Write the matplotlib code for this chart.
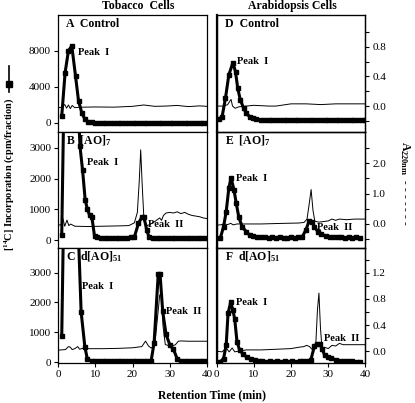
import matplotlib
matplotlib.use('Agg')
import matplotlib.pyplot as plt
from matplotlib.lines import Line2D
from matplotlib.ticker import FixedLocator, FormatStrFormatter

plt.rcParams['font.family'] = 'Liberation Serif'
plt.rcParams['mathtext.fontset'] = 'custom'
plt.rcParams['mathtext.rm'] = 'Liberation Serif'
plt.rcParams['mathtext.bf'] = 'Liberation Serif:bold'
plt.rcParams['mathtext.default'] = 'bf'

# ---- tobacco, thick line = [14C] cpm/fraction, thin line = A220 trace ----
a_t = [1.0, 1.9, 2.8, 3.7, 4.7, 5.5, 6.4, 7.2, 8.1, 9, 10, 11, 12, 13, 14, 15, 16, 17, 18, 19, 20,
       21, 22, 23, 24, 25, 26, 27, 28, 29, 30, 31, 32, 33, 34, 35, 36, 37, 38, 39, 40]
a_cpm = [780, 5580, 8040, 8550, 5220, 2480, 1100, 440, 150, 60, 40, 30, 30, 20, 20, 30, 20, 20, 20, 20,
         20, 30, 20, 20, 20, 20, 20, 30, 20, 20, 20, 20, 20, 20, 20, 20, 20, 20, 20, 20, 20]
a_thin_t = [0, 1, 1.8, 2.3, 2.8, 3.3, 3.8, 4.5, 6, 10, 15, 20, 23, 26, 29, 32, 35, 38, 40]
a_thin = [1700, 1750, 2050, 1650, 2000, 1600, 1950, 1700, 1750, 1780, 1760, 1850, 2000, 1850, 1880,
          1950, 1820, 1900, 1850]

b_t = [1.0, 2, 3, 4, 5, 5.9, 6.6, 7.3, 7.9, 8.5, 9.1, 9.8, 10.6, 11.5, 12.5, 13.5, 14.5, 15.5, 16.5,
       17.5, 18.5, 19.5, 20.5, 21.6, 22.5, 23.1, 23.8, 24.4, 25.5, 26.5, 27.5, 28.5, 29.5, 30.5, 31.5,
       32.5, 33.5, 34.5, 35.5, 36.5, 37.5, 38.5, 39.5]
b_cpm = [160, 8000, 12000, 10000, 5500, 3050, 2270, 1300, 1000, 800, 740, 130, 90, 80, 70, 80, 60, 70,
         80, 60, 70, 90, 100, 545, 740, 740, 330, 110, 70, 60, 60, 50, 60, 50, 60, 50, 60, 50, 50, 60,
         50, 50, 50]
b_thin_t = [0, 0.8, 1.3, 1.8, 2.4, 2.9, 3.4, 4.5, 8, 12, 16, 19, 20.5, 21.3, 21.8, 22.2, 22.6, 23.1,
            24, 25.5, 26.5, 27.3, 27.8, 28.3, 29, 30, 31, 32, 33, 34, 35, 36, 37, 38, 39, 40]
b_thin = [480, 500, 700, 450, 650, 470, 520, 450, 440, 450, 460, 470, 560, 900, 1900, 2940, 1800, 600,
          470, 560, 650, 720, 640, 800, 880, 900, 880, 920, 860, 900, 840, 800, 780, 760, 720, 700]

c_t = [1.0, 2, 3, 4, 5, 6.2, 7.2, 7.9, 9, 10, 11, 12, 13, 14, 15, 16, 17, 18, 19, 20, 21, 22, 23, 24,
       25, 25.8, 26.9, 27.4, 28.1, 29, 30, 31, 32, 33, 34, 35, 36, 37, 38, 39, 40]
c_cpm = [870, 9000, 14000, 12000, 6000, 1690, 515, 90, 40, 30, 30, 20, 30, 20, 20, 30, 20, 20, 30, 20,
         20, 30, 20, 30, 40, 650, 2945, 2945, 1710, 930, 590, 425, 110, 40, 30, 20, 20, 20, 20, 20, 20]
c_thin_t = [0, 1, 2, 2.8, 3.3, 3.8, 4.5, 5.3, 5.8, 6.5, 8, 12, 16, 20, 22.5, 23.5, 24.3, 25, 26, 26.8,
            27.3, 27.7, 28.2, 28.8, 29.5, 30.5, 31.5, 32.3, 33, 35, 38, 40]
c_thin = [400, 410, 420, 520, 500, 420, 450, 520, 430, 460, 450, 450, 460, 480, 520, 705, 540, 470, 600,
          1600, 2250, 2300, 1200, 590, 560, 540, 580, 700, 710, 700, 700, 700]

# ---- arabidopsis ----
d_t = [0.6, 1.5, 2.4, 3.3, 4.4, 5.1, 5.7, 6.4, 7.3, 8.0, 8.9, 9.7, 10.6, 12, 13, 14, 15, 16, 17, 18,
       19, 20, 21, 22, 23, 24, 25, 26, 27, 28, 29, 30, 31, 32, 33, 34, 35, 36, 37, 38, 39, 40]
d_cpm = [407, 700, 2740, 5330, 6700, 5700, 3850, 2560, 1630, 1070, 700, 520, 400, 350, 330, 330, 320,
         330, 320, 320, 330, 320, 320, 320, 310, 320, 320, 310, 320, 310, 310, 320, 310, 310, 310, 300,
         310, 310, 300, 300, 300, 300]
d_thin_t = [0, 2, 3, 3.5, 3.9, 4.3, 5, 6, 8, 10, 14, 16, 20, 24, 28, 32, 36, 40]
d_thin = [0.0, 0.0, 0.02, 0.06, 0.09, 0.0, -0.03, -0.01, 0.0, 0.01, 0.0, 0.0, 0.03, 0.03, 0.02, 0.03,
          0.03, 0.03]

e_t = [1.0, 1.9, 2.6, 3.3, 3.9, 4.7, 5.3, 6.0, 6.9, 8.0, 8.9, 9.8, 11, 12, 13, 14, 15, 16, 17, 18, 19,
       20, 21, 22, 23, 24.0, 24.9, 25.7, 26.3, 27.2, 28.1, 29.4, 30.5, 31.5, 32.5, 33.5, 34.5, 35.5,
       36.5, 37.5, 38.5]
e_cpm = [55, 435, 925, 1685, 2030, 1630, 1195, 740, 435, 270, 165, 130, 100, 90, 90, 80, 90, 80, 90, 80,
         80, 90, 80, 90, 100, 327, 630, 600, 435, 270, 195, 130, 110, 100, 90, 90, 80, 90, 80, 90, 80]
e_thin_t = [0, 1, 2, 3, 3.8, 4.5, 5.5, 8, 12, 18, 22, 23.5, 24.3, 24.8, 25.4, 25.9, 26.4, 27.5, 30, 31,
            32, 33, 34, 35, 37, 40]
e_thin = [-0.04, -0.03, 0.0, -0.02, 0.02, -0.03, 0.0, 0.0, 0.0, 0.02, 0.03, 0.05, 0.16, 0.58, 1.13,
          0.45, 0.09, 0.06, 0.1, 0.16, 0.12, 0.16, 0.15, 0.14, 0.16, 0.16]

f_t = [1.0, 1.9, 2.6, 3.1, 3.8, 4.4, 4.9, 5.5, 6.2, 7.2, 8.2, 9.3, 10.3, 11.3, 12.3, 13.3, 14.3, 15.3,
       16.3, 17.3, 18.3, 19.3, 20.3, 21.3, 22.3, 23.3, 24.3, 25.3, 26.3, 26.9, 27.8, 28.4, 29.0, 29.9,
       30.8, 32.1, 33.2, 34.3, 35.4, 36.5, 37.6, 38.5]
f_cpm = [15, 115, 575, 1640, 2005, 1750, 1435, 685, 405, 260, 160, 95, 70, 50, 40, 15, 20, 15, 20, 15,
         20, 15, 20, 15, 20, 25, 30, 60, 540, 610, 610, 430, 240, 160, 125, 70, 50, 35, 25, 20, 15, 15]
f_thin_t = [0, 1.5, 2.6, 3.4, 4.2, 4.9, 5.8, 8, 12, 16, 20, 22, 23.4, 24.2, 25, 25.8, 26.6, 27.1, 27.5,
            27.9, 28.3, 29, 30, 31, 32, 33, 34, 36, 38, 40]
f_thin = [0.0, -0.01, 0.05, -0.01, 0.05, -0.01, 0.0, 0.02, 0.02, 0.03, 0.04, 0.06, 0.07, 0.09, 0.07,
          0.02, 0.04, 0.63, 0.89, 0.37, 0.05, 0.06, 0.04, 0.09, 0.08, 0.12, 0.1, 0.1, 0.1, 0.1]

panel_names = ['A  Control', 'B  [AO]$_7$', 'C  d[AO]$_{51}$',
               'D  Control', 'E  [AO]$_7$', 'F  d[AO]$_{51}$']

fig = plt.figure(figsize=(4.15, 4.03), dpi=100)

# panel boxes (figure fractions)
col_x = [0.1398, 0.5217]
col_w = 0.359
rows = [(0.6725, 0.2903), (0.3846, 0.2878), (0.0993, 0.2854)]
cpm_lims = [(-1000, 12000), (-260, 3520), (-30, 3830)]
cpm_ticks = [[0, 4000, 8000], [0, 1000, 2000, 3000], [0, 1000, 2000, 3000]]

thick = [(a_t, a_cpm), (b_t, b_cpm), (c_t, c_cpm), (d_t, d_cpm), (e_t, e_cpm), (f_t, f_cpm)]
thin = [(a_thin_t, a_thin), (b_thin_t, b_thin), (c_thin_t, c_thin),
        (d_thin_t, d_thin), (e_thin_t, e_thin), (f_thin_t, f_thin)]

# A220 axis settings for right column
a_lims = [(-0.35, 1.23), (-0.79, 3.02), (-0.18, 1.58)]
a_major = [[0, 0.4, 0.8], [0, 1, 2], [0, 0.4, 0.8, 1.2]]
a_minor = [[-0.2, 0.2, 0.6, 1.0], [-0.5, 0.5, 1.5, 2.5], [0.2, 0.6, 1.0, 1.4]]

# peak label positions (time, cpm)
peak1 = [(5.4, 7780), (7.8, 2540), (6.4, 2530), (5.5, 6780), (5.2, 1990), (5.2, 1984)]
peak2 = [None, (24.2, 490), (29.0, 1700), None, (27.0, 424), None]

for col in range(2):
    for r in range(3):
        i = col * 3 + r
        ax = fig.add_axes([col_x[col], rows[r][0], col_w, rows[r][1]])
        ax.set_xlim(0, 40)
        ax.set_ylim(cpm_lims[r])
        for s in ax.spines.values():
            s.set_linewidth(0.9)

        if col == 0:
            ax.plot(thin[i][0], thin[i][1], color='black', lw=0.7, zorder=2)
        else:
            ax2 = ax.twinx()
            ax2.set_ylim(a_lims[r])
            ax2.plot(thin[i][0], thin[i][1], color='black', lw=0.7)
            ax2.yaxis.set_major_locator(FixedLocator(a_major[r]))
            ax2.yaxis.set_minor_locator(FixedLocator(a_minor[r]))
            ax2.yaxis.set_major_formatter(FormatStrFormatter('%.1f'))
            ax2.tick_params(axis='y', which='major', direction='out', length=3, width=0.8, labelsize=8, pad=2)
            ax2.tick_params(axis='y', which='minor', direction='out', length=3, width=0.8)
            ax2.spines['left'].set_linewidth(1.6)
            ax2.spines['right'].set_linewidth(0.9)
            ax.set_zorder(ax2.get_zorder() + 1)
            ax.patch.set_visible(False)

        # thick line with square markers on top
        ax.plot(thick[i][0], thick[i][1], color='black', lw=2.2, marker='s', ms=2.8, zorder=3,
                clip_on=True)

        if col == 0:
            ax.set_yticks(cpm_ticks[r])
            ax.tick_params(axis='y', direction='out', length=3, width=0.8, labelsize=8, pad=2)
        else:
            ax.tick_params(axis='y', left=False, labelleft=False)

        if r == 2:
            ax.set_xticks([0, 10, 20, 30, 40])
            ax.tick_params(axis='x', direction='out', length=3, width=0.8, labelsize=8, pad=2)
        else:
            ax.tick_params(axis='x', bottom=False, labelbottom=False)

        ax.text(0.054, 0.925, panel_names[i], transform=ax.transAxes, fontsize=8.5,
                fontweight='bold', ha='left', va='center')
        ax.text(peak1[i][0], peak1[i][1], 'Peak  I', fontsize=7.5, fontweight='bold',
                ha='left', va='center', zorder=5)
        if peak2[i] is not None:
            ax.text(peak2[i][0], peak2[i][1], 'Peak  II', fontsize=7.5, fontweight='bold',
                    ha='left', va='center', zorder=5)
        if i == 5:
            ax2.text(28.9, 0.2, 'Peak  II', fontsize=7.5, fontweight='bold', ha='left', va='center')

# column titles
fig.text(0.333, 0.984, 'Tobacco  Cells', fontsize=8.5, fontweight='bold', ha='center', va='center')
fig.text(0.704, 0.984, 'Arabidopsis Cells', fontsize=8.5, fontweight='bold', ha='center', va='center')

# axis labels
fig.text(0.51, 0.02, 'Retention Time (min)', fontsize=8.5, fontweight='bold', ha='center', va='center')
fig.text(0.021, 0.568, '[$^{14}$C] Incorporation (cpm/fraction)', fontsize=7.4, fontweight='bold',
         rotation=90, ha='center', va='center')
fig.text(0.975, 0.545, 'A$_{220nm}$  - - - - - - -', fontsize=8.5, fontweight='bold',
         rotation=-90, ha='center', va='center')

# legend symbol for the thick line, above the y label
fig.add_artist(Line2D([0.021, 0.021], [1 - 66 / 403, 1 - 92 / 403], color='black', lw=1.2))
fig.add_artist(Line2D([0.021], [1 - 84 / 403], color='black', marker='s', ms=5, lw=0))

fig.savefig('out.png', dpi=100)
